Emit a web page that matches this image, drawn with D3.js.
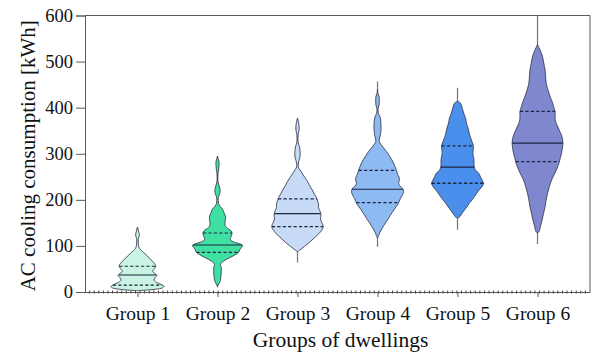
<!DOCTYPE html>
<html>
<head>
<meta charset="utf-8">
<script src="https://cdn.jsdelivr.net/npm/d3@7"></script>
<style>
  html, body { margin: 0; padding: 0; background: #fff; }
  svg { display: block; }
  text { font-family: "Liberation Serif", "DejaVu Serif", serif; fill: #111; }
</style>
</head>
<body>
<svg id="chart" width="594" height="353"></svg>
<script>
// Dwelling groups
const groups = ["Group 1", "Group 2", "Group 3", "Group 4", "Group 5", "Group 6"];
const fills = ["#c9f3e2", "#3fe0a1", "#c8dbf6", "#8ebaf3", "#4b8fec", "#7f87cf"];

// Kernel density profiles: [consumption kWh, relative density 0-100]
const density1 = [[141,0],[135,2.6],[128,5.9],[122,6.7],[116,3],[105,3],[97,5.6],[92,11],[86,22],[78,37],[70,50],[62,63],[57,68],[51,63],[45,56],[40,65],[36,72],[31,65],[26,61],[21,70],[16,89],[12,98],[9,93],[6,67],[4,30],[3,0]];
const density2 = [[295,0],[290,1.9],[283,5.6],[275,5.6],[266,4.4],[258,1.9],[240,1.9],[228,7.4],[220,10],[212,7.4],[205,3],[192,3.7],[186,9.3],[180,18.5],[172,24],[162,30],[152,28],[145,28],[140,33],[133,50],[127,54],[120,50],[113,48],[108,63],[104,85],[101,93],[97,89],[92,83],[86,78],[80,63],[74,44],[67,22],[62,13],[58,11],[54,13.7],[45,14],[35,13],[25,10.4],[18,5.6],[15,1.9],[12,0]];
const density3 = [[377,0],[372,2.2],[362,5.6],[350,5.6],[342,2.2],[325,2.2],[315,7.4],[305,9.6],[295,9.6],[285,5.6],[275,2.2],[268,5.6],[262,13],[255,20],[248,28],[240,37],[233,43],[226,50],[219,57],[212,63],[205,70],[198,74],[190,78],[183,78],[176,83],[168,87],[160,85],[152,89],[146,94],[140,95],[134,89],[127,80],[120,67],[113,54],[106,41],[99,26],[93,13],[89,4],[87,0]];
const density4 = [[440,0],[430,1.9],[425,5.6],[415,6.7],[405,5.6],[398,2.2],[388,3],[380,9.3],[370,12.2],[355,13],[342,11],[332,6.7],[326,6.7],[320,13],[313,22],[305,33],[296,43],[288,52],[280,59],[272,65],[264,70],[256,74],[249,80],[243,81],[236,78],[230,83],[224,94],[218,96],[211,93],[203,85],[196,80],[189,74],[182,65],[174,56],[167,48],[160,41],[153,33],[145,24],[138,17],[130,9.3],[122,3.7],[117,0]];
const density5 = [[414,0],[410,11],[400,17],[388,23],[377,30],[367,33],[356,39],[345,43],[335,48],[326,54],[317,59],[309,58],[301,57],[294,59],[287,61],[279,61],[271,62],[264,67],[258,78],[250,85],[243,91],[236,96],[229,91],[222,81],[215,72],[207,63],[200,54],[193,44],[185,35],[178,26],[171,17],[164,9.3],[160,0]];
const density6 = [[537,0],[530,5.6],[520,13],[511,18.5],[497,23],[482,28],[468,30],[453,32],[440,38],[425,46],[410,56],[400,61],[392,65],[380,65],[370,67],[360,74],[352,80],[340,89],[330,93],[323,94],[312,92],[301,89],[292,85],[283,81],[274,76],[265,70],[254,61],[243,52],[229,44],[214,37],[200,32],[185,28],[170,22],[156,17],[143,11],[131,5.6],[128,0]];
const densities = [density1, density2, density3, density4, density5, density6];

// Whisker extent (min, max) per group, kWh
const whiskerMin = [3, 10, 64, 98, 135, 104];
const whiskerMax = [141, 295, 377, 457, 443, 610];

// Quartiles per group, kWh
const q1 = [15, 86, 142, 194, 236, 283];
const median = [37, 102, 170, 223, 271, 323];
const q3 = [56, 128, 202, 264, 317, 392];

const yTicks = [0, 100, 200, 300, 400, 500, 600];

const svg = d3.select("#chart");
const mLeft = 85, mRight = 590, mTop = 15.5, mBottom = 292;
const serif = "'Liberation Serif', 'DejaVu Serif', serif";

const x = d3.scalePoint().domain(groups).range([mLeft, mRight]).padding(0.656);
const y = d3.scaleLinear().domain([0, 600]).range([mBottom, mTop]);
const w = d3.scaleLinear().domain([0, 100]).range([0, 27]);

svg.append("clipPath").attr("id", "clip")
  .append("rect").attr("x", mLeft).attr("y", mTop).attr("width", mRight - mLeft).attr("height", mBottom - mTop);

// interpolate half-width of a profile at a value
function halfAt(prof, v) {
  const s = prof.slice().sort((a, b) => a[0] - b[0]);
  for (let i = 0; i < s.length - 1; i++) {
    if (v >= s[i][0] && v <= s[i + 1][0]) {
      const t = (v - s[i][0]) / (s[i + 1][0] - s[i][0]);
      return w(s[i][1] + t * (s[i + 1][1] - s[i][1]));
    }
  }
  return 0;
}

const g = svg.append("g").attr("clip-path", "url(#clip)");

groups.forEach((grp, i) => {
  const cx = x(grp);
  // whisker
  g.append("line")
    .attr("x1", cx).attr("x2", cx)
    .attr("y1", y(whiskerMin[i])).attr("y2", y(whiskerMax[i]))
    .attr("stroke", "#6f7380").attr("stroke-width", 1.2);

  const area = d3.area()
    .y(d => y(d[0]))
    .x0(d => cx - w(d[1]))
    .x1(d => cx + w(d[1]))
    .curve(d3.curveCatmullRom.alpha(0.5));
  g.append("path")
    .datum(densities[i])
    .attr("d", area)
    .attr("fill", fills[i])
    .attr("stroke", "#3a4055")
    .attr("stroke-width", 0.9);

  const lines = [
    { v: q1[i], dash: "3.2,2.2", sw: 1.3 },
    { v: median[i], dash: null, sw: 1.1 },
    { v: q3[i], dash: "3.2,2.2", sw: 1.1 }
  ];
  lines.forEach(l => {
    const hw = halfAt(densities[i], l.v);
    g.append("line")
      .attr("x1", cx - hw).attr("x2", cx + hw)
      .attr("y1", y(l.v)).attr("y2", y(l.v))
      .attr("stroke", "#1c2440")
      .attr("stroke-width", l.sw)
      .attr("stroke-dasharray", l.dash);
  });
});

// frame: top and right
const axisColor = "#5a5a5a";
svg.append("line").attr("x1", mLeft).attr("x2", mRight).attr("y1", mTop).attr("y2", mTop)
  .attr("stroke", axisColor).attr("stroke-width", 1);
svg.append("line").attr("x1", mRight).attr("x2", mRight).attr("y1", mTop).attr("y2", mBottom)
  .attr("stroke", axisColor).attr("stroke-width", 1);

// y axis
const yAxis = svg.append("g").attr("transform", `translate(${mLeft},0)`)
  .call(d3.axisLeft(y).tickValues(yTicks).tickSize(9).tickPadding(3).tickFormat(d3.format("d")))
  .attr("font-family", serif);
yAxis.selectAll("path, line").attr("stroke", axisColor).attr("stroke-width", 1);
yAxis.selectAll("text").attr("font-size", 18.5).style("font-family", serif).attr("fill", "#111");

// x axis with minor ticks
const xAxis = svg.append("g").attr("transform", `translate(0,${mBottom})`)
  .call(d3.axisBottom(x).tickSize(5).tickPadding(9).tickSizeOuter(0))
  .attr("font-family", serif);
xAxis.select("path").attr("stroke", axisColor).attr("stroke-width", 1);
xAxis.selectAll("line").attr("stroke", axisColor);
xAxis.selectAll("text").attr("font-size", 19.5).style("font-family", serif).attr("fill", "#111");

const minor = d3.scaleLinear().domain([0, 110]).range([mLeft, mRight]);
svg.append("g").selectAll("line")
  .data(d3.range(1, 110))
  .join("line")
  .attr("x1", d => minor(d)).attr("x2", d => minor(d))
  .attr("y1", mBottom - 1.5).attr("y2", mBottom + 1.5)
  .attr("stroke", "#444").attr("stroke-width", 1);

// axis titles
svg.append("text")
  .attr("transform", `translate(28,${(mTop + mBottom) / 2 + 2}) rotate(-90)`)
  .attr("text-anchor", "middle")
  .attr("dominant-baseline", "central")
  .attr("font-size", 21)
  .style("font-family", serif)
  .text("AC cooling consumption [kWh]");

svg.append("text")
  .attr("x", (mLeft + mRight) / 2 + 3)
  .attr("y", 347)
  .attr("text-anchor", "middle")
  .attr("font-size", 21.5)
  .style("font-family", serif)
  .text("Groups of dwellings");
</script>
</body>
</html>
